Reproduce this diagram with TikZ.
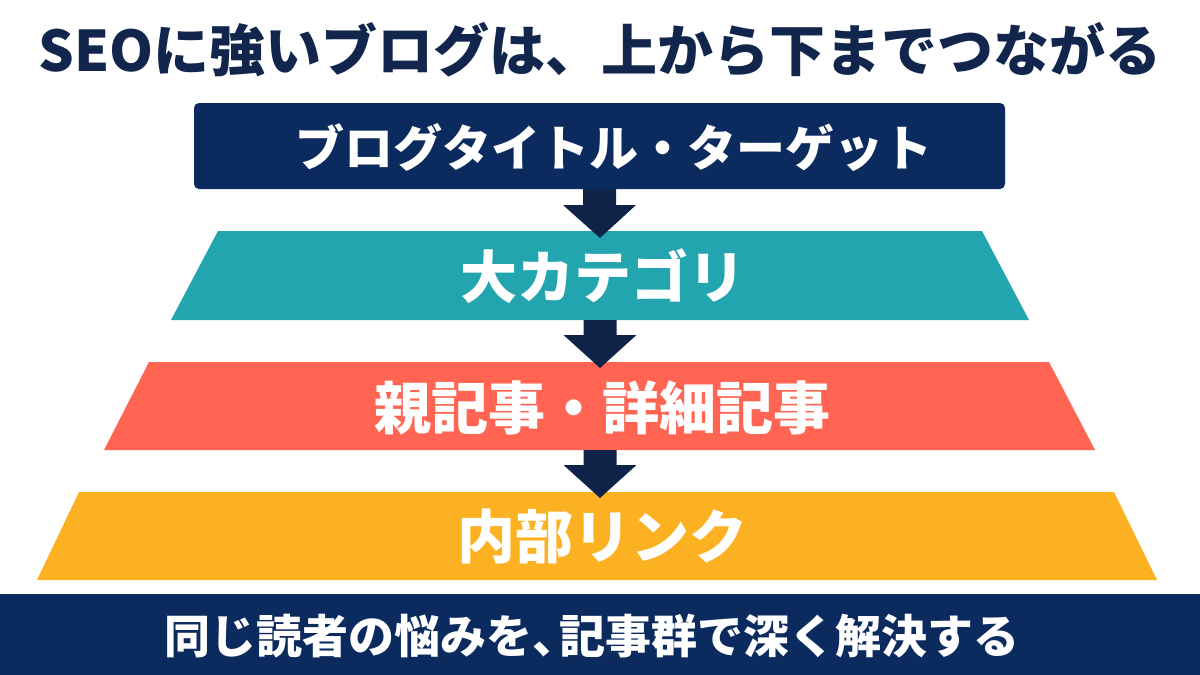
\documentclass[tikz,border=0pt]{standalone}
\usepackage{fontspec}
\setmainfont{Noto Sans CJK JP}
\usetikzlibrary{calc}
\definecolor{navy}{HTML}{0B2A5E}
\definecolor{arrowc}{HTML}{0E2347}
\definecolor{titlec}{HTML}{12264D}
\definecolor{tealc}{HTML}{23A5B0}
\definecolor{coralc}{HTML}{FF6552}
\definecolor{orangec}{HTML}{FCB122}
\newcommand\dnarrow[2]{%
  \fill[arrowc] let \p1=(#1), \p2=(#2) in
    (\x1-16.5pt,\y1) -- (\x1+16.5pt,\y1) -- (\x1+16.5pt,\y2+33pt) --
    (\x1+36.5pt,\y2+33pt) -- (\x2,\y2) -- (\x1-36.5pt,\y2+33pt) --
    (\x1-16.5pt,\y2+33pt) -- cycle;}
\tikzset{
  lbl/.style={text=white, font=\bfseries, inner sep=0pt, anchor=center},
}
\begin{document}
\begin{tikzpicture}[x=1pt,y=-1pt]
\useasboundingbox (0,0) rectangle (1200,675);
\fill[white] (0,0) rectangle (1200,675);
% title
\node[text=titlec, font=\fontsize{56}{60}\selectfont\bfseries, inner sep=0pt] (title) at (600,50) {SEOに強いブログは、上から下までつながる};
% top box
\node[fill=navy, rounded corners=5pt, minimum width=811pt, minimum height=86pt, inner sep=0pt] (box) at (599.5,146) {};
\node[lbl, font=\fontsize{49}{54}\selectfont\bfseries] (boxt) at (614,148) {ブログタイトル・ターゲット};
% trapezoids
\fill[tealc] (218,231) -- (982,231) -- (1029,320) -- (171,320) -- cycle;
\coordinate (tealtop) at (600,231);
\coordinate (tealbot) at (600,320);
\node[lbl, font=\fontsize{57}{60}\selectfont\bfseries] (teal) at (603,276) {大カテゴリ};
\fill[coralc] (149,362) -- (1049,362) -- (1095,450) -- (104,450) -- cycle;
\coordinate (coraltop) at (600,362);
\coordinate (coralbot) at (600,450);
\node[lbl, font=\fontsize{57}{60}\selectfont\bfseries] (coral) at (602,408) {親記事・詳細記事};
\fill[orangec] (79,492) -- (1114,492) -- (1157,580) -- (37,580) -- cycle;
\coordinate (orangetop) at (600,492);
\node[lbl, font=\fontsize{58}{60}\selectfont\bfseries] (orange) at (602,537) {内部リンク};
% arrows
\coordinate (a1end) at (600,238);
\coordinate (a2end) at (600,368);
\coordinate (a3end) at (600,498);
\dnarrow{box.south}{a1end}
\dnarrow{tealbot}{a2end}
\dnarrow{coralbot}{a3end}
% bottom band
\fill[navy] (0,594) rectangle (1200,675);
\node[lbl, font=\fontsize{46}{48}\selectfont\bfseries] (foot) at (592,636) {同じ読者の悩みを\makebox[0.6em][l]{、}記事群で深く解決する};
\end{tikzpicture}
\end{document}
